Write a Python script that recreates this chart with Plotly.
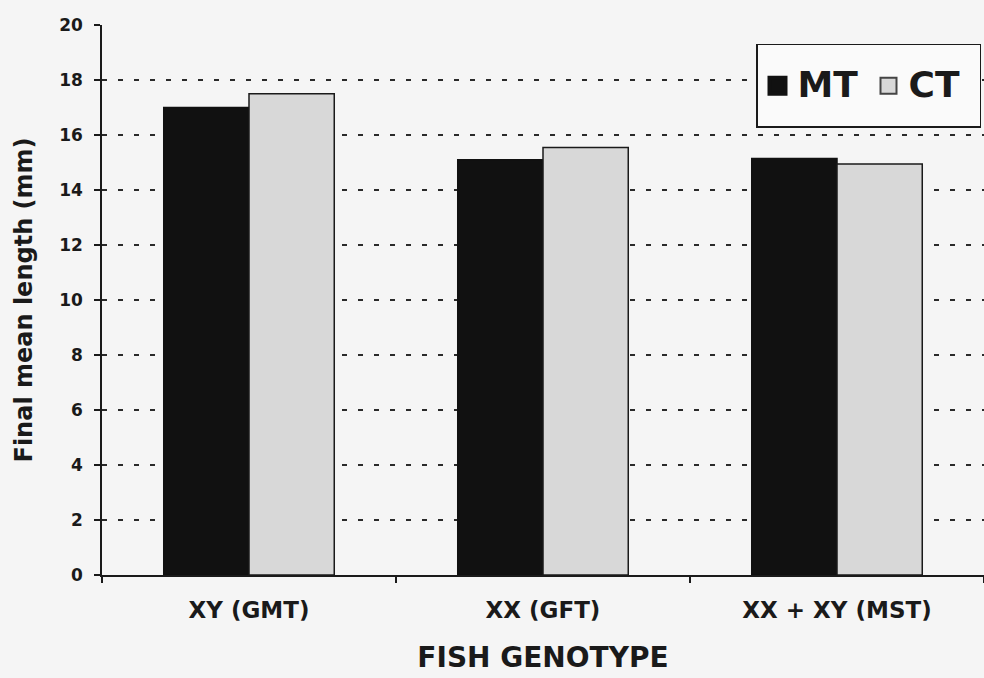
import plotly.graph_objects as go

# Final mean length of fish by genotype, two treatments
genotypes = ["XY (GMT)", "XX (GFT)", "XX + XY (MST)"]
mt_length = [17.0, 15.1, 15.15]
ct_length = [17.5, 15.55, 14.95]
y_ticks = [0, 2, 4, 6, 8, 10, 12, 14, 16, 18, 20]

FONT = "'DejaVu Sans', Arial, sans-serif"
INK = "#1a1a1a"
LEGEND_TEXT = '<span style="font-size:36px;baseline-shift:9px">{}</span>'

fig = go.Figure()
fig.add_trace(go.Bar(
    x=genotypes, y=mt_length, name="MT", showlegend=False,
    marker=dict(color="#111111", line=dict(color="#111111", width=1.5)),
))
fig.add_trace(go.Bar(
    x=genotypes, y=ct_length, name="CT", showlegend=False,
    marker=dict(color="#d8d8d8", line=dict(color="#1a1a1a", width=1.5)),
))
# Legend entries with large square swatches
fig.add_trace(go.Scatter(
    x=[None], y=[None], mode="markers",
    name=LEGEND_TEXT.format("MT"),
    marker=dict(symbol="square", size=18, color="#111111",
                line=dict(color="#111111", width=4)),
))
fig.add_trace(go.Scatter(
    x=[None], y=[None], mode="markers",
    name=LEGEND_TEXT.format("CT"),
    marker=dict(symbol="square", size=18, color="#d8d8d8",
                line=dict(color="#444444", width=2)),
))

fig.update_layout(
    width=984, height=678,
    margin=dict(l=102, r=0, t=25, b=103),
    paper_bgcolor="#f5f5f5",
    plot_bgcolor="#f5f5f5",
    font=dict(family=FONT, color=INK),
    barmode="group",
    bargap=0.42,
    bargroupgap=0,
    legend=dict(
        orientation="h",
        x=0.7415, xanchor="left",
        y=0.9655, yanchor="top",
        bgcolor="#fafafa",
        bordercolor="#1a1a1a", borderwidth=1.5,
        font=dict(family=FONT, size=52, color=INK, weight="bold"),
        itemsizing="trace",
        itemwidth=30,
        entrywidth=66,
        tracegroupgap=0,
    ),
    showlegend=True,
)

fig.update_yaxes(
    range=[0, 20],
    tickvals=y_ticks,
    ticks="outside", ticklen=6, tickwidth=1.5, tickcolor=INK,
    tickfont=dict(family=FONT, size=17, color=INK, weight="bold"),
    ticklabelstandoff=8,
    showline=True, linecolor=INK, linewidth=1.5,
    showgrid=True, gridcolor="#2a2a2a", gridwidth=1.6, griddash="5px,11px",
    zeroline=False,
    title=dict(text="Final mean length (mm)", standoff=20,
               font=dict(family=FONT, size=24, color=INK, weight="bold")),
)
fig.update_xaxes(
    range=[-0.5, 2.5],
    tickson="boundaries",
    ticks="outside", ticklen=6, tickwidth=1.5, tickcolor=INK,
    tickfont=dict(family=FONT, size=23, color=INK, weight="bold"),
    ticklabelstandoff=14,
    showline=True, linecolor=INK, linewidth=1.5,
    showgrid=False, zeroline=False,
    title=dict(text="FISH GENOTYPE", standoff=25,
               font=dict(family=FONT, size=28, color=INK, weight="bold")),
)

fig.write_html("out.html")
